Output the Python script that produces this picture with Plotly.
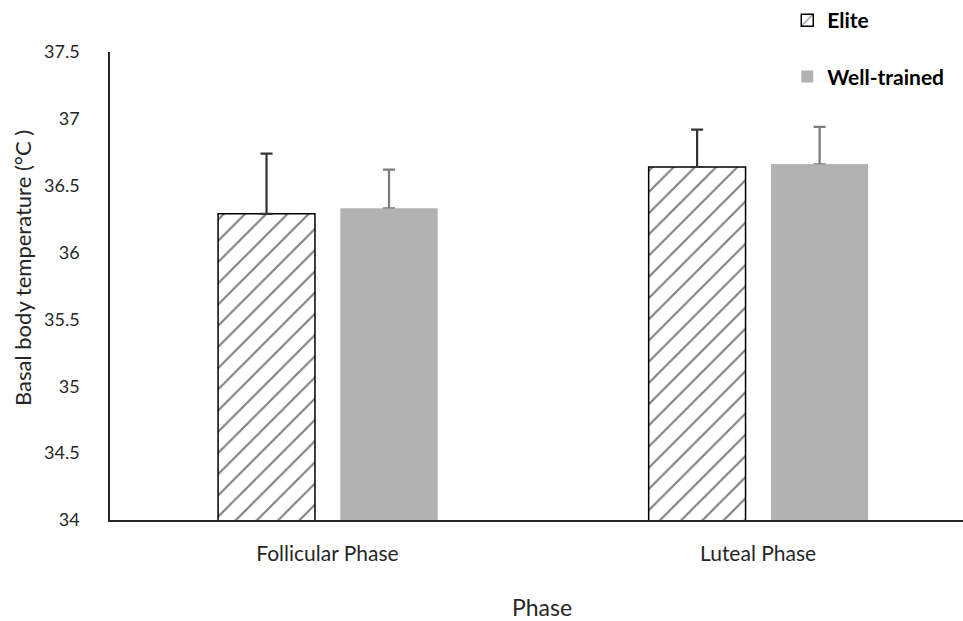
import plotly.graph_objects as go

phases = ["Follicular Phase", "Luteal Phase"]
elite_mean = [36.29, 36.64]
elite_err = [0.45, 0.28]
wt_mean = [36.33, 36.66]
wt_err = [0.29, 0.28]
y_ticks = [34, 34.5, 35, 35.5, 36, 36.5, 37, 37.5]
y_tick_text = ["34", "34.5", "35", "35.5", "36", "36.5", "37", "37.5"]

FONT = "Lato, 'Open Sans', sans-serif"
TXT = "#262626"

fig = go.Figure()
fig.add_trace(go.Bar(
    name="Elite", x=phases, y=elite_mean,
    width=0.225, offset=-0.254,
    marker=dict(color="white", line=dict(color="black", width=1.5),
                pattern=dict(shape="/", fgcolor="black", bgcolor="white",
                             size=15, solidity=0.14)),
    error_y=dict(type="data", symmetric=False, array=elite_err,
                 arrayminus=[0, 0], color="#333333", thickness=2.2, width=6),
    legendgroup="a",
))
fig.add_trace(go.Bar(
    name="Well-trained", x=phases, y=wt_mean,
    width=0.225, offset=0.0305,
    marker=dict(color="#b2b2b2", line=dict(width=0)),
    error_y=dict(type="data", symmetric=False, array=wt_err,
                 arrayminus=[0, 0], color="#7a7a7a", thickness=2.2, width=6),
    legendgroup="b",
))
# cover the lower cap of the grey error bars
fig.add_trace(go.Bar(
    name="Well-trained", x=phases, y=wt_mean,
    width=0.225, offset=0.0305,
    marker=dict(color="#b2b2b2", line=dict(width=0)),
    showlegend=False, hoverinfo="skip", legendgroup="b",
))

fig.update_layout(
    width=963, height=621,
    margin=dict(l=110, r=0, t=0, b=101),
    paper_bgcolor="white", plot_bgcolor="white",
    font=dict(family=FONT, color=TXT, size=18),
    barmode="overlay",
    showlegend=True,
    legend=dict(x=0.794, y=1.0, xanchor="left", yanchor="top",
                font=dict(family=FONT, size=21, color="black", weight="bold"),
                traceorder="grouped", tracegroupgap=26,
                bgcolor="rgba(0,0,0,0)"),
    xaxis=dict(type="category", range=[-0.505, 1.476], showline=True,
               linecolor="#262626", linewidth=1.5, ticks="", showgrid=False,
               automargin=False, ticklabelstandoff=14,
               tickfont=dict(size=21, color=TXT)),
    yaxis=dict(range=[34, 37.5], domain=[0, 0.9], tickvals=y_ticks,
               ticktext=y_tick_text,
               showline=True, linecolor="#262626", linewidth=1.5,
               ticks="", showgrid=False, zeroline=False, automargin=False,
               ticklabelstandoff=25,
               tickfont=dict(size=18, color=TXT)),
    annotations=[
        dict(text="Phase", xref="paper", yref="paper",
             x=0.506, y=-0.167, xanchor="center", yanchor="middle",
             showarrow=False, font=dict(size=23, color=TXT)),
        dict(text="Basal body temperature (°C )", xref="paper", yref="paper",
             x=-0.1032, y=0.4846, xanchor="center", yanchor="middle",
             textangle=-90, showarrow=False, font=dict(size=22, color=TXT)),
    ],
)

fig.write_html("out.html", config={"displayModeBar": False},
               post_script="document.body.style.margin='0';")
